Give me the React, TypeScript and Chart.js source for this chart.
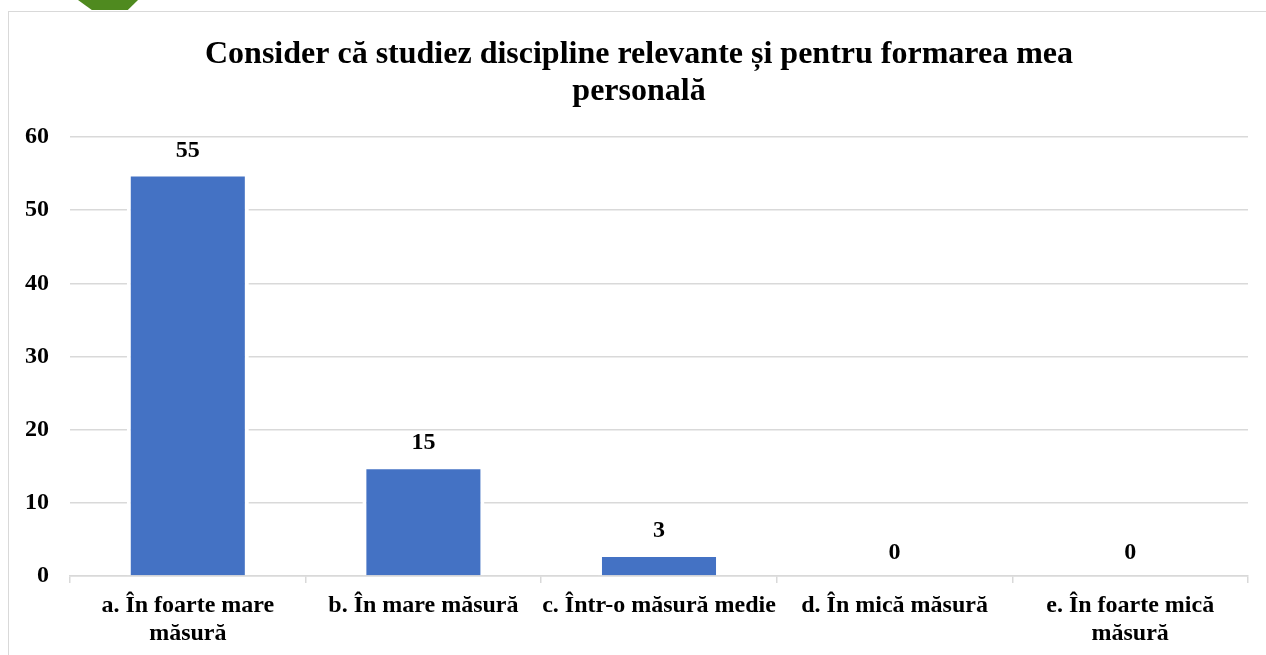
import React, { useEffect, useRef } from "react";
import { Chart, registerables } from "chart.js";

Chart.register(...registerables);

const TITLE_LINES = ["Consider că studiez discipline relevante și pentru formarea mea", "personală"];
const CATEGORIES: (string | string[])[] = [
  ["a. În foarte mare", "măsură"],
  "b. În mare măsură",
  "c. Într-o măsură medie",
  "d. În mică măsură",
  ["e. În foarte mică", "măsură"],
];
const VALUES = [55, 15, 3, 0, 0];
const Y_MIN = 0;
const Y_MAX = 60;
const Y_STEP = 10;

const FONT = "'Liberation Serif', 'Times New Roman', serif";

const dataLabels = {
  id: "dataLabels",
  afterDatasetsDraw(chart: any) {
    const ctx = chart.ctx;
    const meta = chart.getDatasetMeta(0);
    ctx.save();
    ctx.font = `bold 24px ${FONT}`;
    ctx.fillStyle = "#000000";
    ctx.textAlign = "center";
    ctx.textBaseline = "alphabetic";
    meta.data.forEach((el: any, i: number) => {
      const v = chart.data.datasets[0].data[i];
      ctx.fillText(String(v), el.x, el.y - 17);
    });
    ctx.restore();
  },
};

const titlePlugin = {
  id: "customTitle",
  afterDraw(chart: any) {
    const ctx = chart.ctx;
    ctx.save();
    ctx.font = `bold 32px ${FONT}`;
    ctx.fillStyle = "#000000";
    ctx.textAlign = "center";
    ctx.textBaseline = "middle";
    const cx = chart.width / 2 + 1.5;
    TITLE_LINES.forEach((line, i) => {
      ctx.fillText(line, cx, 43.2 + i * 36.8);
    });
    ctx.restore();
  },
};

export default function App() {
  const ref = useRef<HTMLCanvasElement | null>(null);

  useEffect(() => {
    if (!ref.current) return;
    const chart = new Chart(ref.current, {
      type: "bar",
      data: {
        labels: CATEGORIES,
        datasets: [
          {
            data: VALUES,
            backgroundColor: "#4472C4",
            borderColor: "#ffffff",
            borderWidth: { top: 3, left: 4, right: 4, bottom: 0 },
            borderSkipped: false,
            categoryPercentage: 1,
            barPercentage: 0.518,
          },
        ],
      },
      options: {
        animation: false,
        responsive: false,
        maintainAspectRatio: false,
        layout: { padding: { left: 0, right: 18, top: 125, bottom: 0 } },
        plugins: {
          legend: { display: false },
          tooltip: { enabled: false },
          title: { display: false },
        },
        scales: {
          x: {
            grid: {
              display: true,
              drawOnChartArea: false,
              drawTicks: true,
              tickLength: 7,
              color: "#d9d9d9",
              lineWidth: 1.5,
            },
            border: { display: true, color: "#d9d9d9", width: 1.5 },
            ticks: {
              color: "#000000",
              font: { family: FONT, size: 24, weight: "bold", lineHeight: 1.15 },
              padding: 9,
              maxRotation: 0,
              autoSkip: false,
            },
            afterFit(scale: any) {
              scale.height = 79;
            },
          },
          y: {
            min: Y_MIN,
            max: Y_MAX,
            ticks: {
              stepSize: Y_STEP,
              color: "#000000",
              font: { family: FONT, size: 24, weight: "bold" },
              padding: 21,
            },
            grid: { color: "#d9d9d9", lineWidth: 1.5, drawTicks: false },
            border: { display: false },
            afterFit(scale: any) {
              scale.width = 61;
            },
          },
        },
      },
      plugins: [dataLabels, titlePlugin],
    });
    return () => chart.destroy();
  }, []);

  return (
    <div
      style={{
        position: "fixed",
        left: 0,
        top: 0,
        width: 1266,
        height: 655,
        overflow: "hidden",
        background: "#ffffff",
      }}
    >
      <div
        style={{
          position: "absolute",
          left: 78,
          top: 0,
          width: 60,
          height: 10,
          background: "#4F8A1F",
          clipPath: "polygon(0 0, 100% 0, 83% 100%, 23% 100%)",
        }}
      />
      <div
        style={{
          position: "absolute",
          left: 8,
          top: 11,
          width: 1258,
          height: 644,
          boxSizing: "border-box",
          borderLeft: "1px solid #d9d9d9",
          borderTop: "1px solid #d9d9d9",
        }}
      >
        <canvas ref={ref} width={1257} height={643} style={{ display: "block" }} />
      </div>
    </div>
  );
}
